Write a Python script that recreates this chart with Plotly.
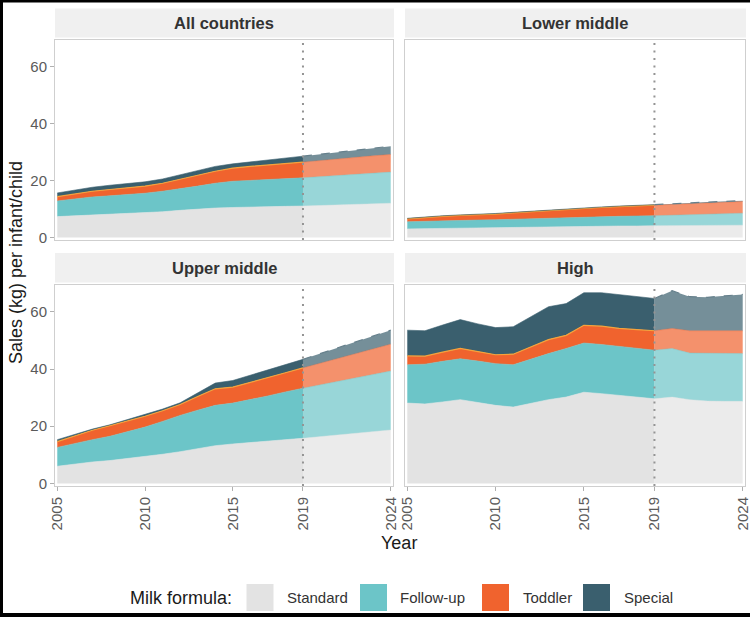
import plotly.graph_objects as go

# ---------------- data (kg per infant/child, per formula type) ----------------
years = list(range(2005, 2025))
projection_start = 2019
panels = ["All countries", "Lower middle", "Upper middle", "High"]
formula_types = ["Standard", "Follow-up", "Toddler", "Special"]
x_tick_vals = [2005, 2010, 2015, 2019, 2024]
y_tick_vals = [0, 20, 40, 60]

all_standard = [7.3, 7.6, 7.9, 8.1, 8.3, 8.6, 9.0, 9.5, 10.0, 10.3, 10.5, 10.7, 10.8, 10.9, 11.0, 11.2, 11.4, 11.6, 11.8, 12.0]
all_followup = [5.5, 5.9, 6.3, 6.5, 6.7, 6.9, 7.2, 7.5, 8.0, 8.7, 9.2, 9.3, 9.5, 9.7, 9.9, 10.1, 10.3, 10.5, 10.7, 10.9]
all_toddler = [1.5, 1.8, 2.0, 2.2, 2.3, 2.5, 2.8, 3.3, 3.8, 4.2, 4.6, 4.9, 5.1, 5.3, 5.5, 5.7, 5.8, 5.9, 6.1, 6.2]
all_special = [1.3, 1.3, 1.4, 1.5, 1.5, 1.5, 1.5, 1.7, 1.7, 1.7, 1.5, 1.6, 1.8, 2.0, 2.1, 2.2, 2.5, 2.7, 2.8, 2.9]

lower_standard = [3.0, 3.1, 3.2, 3.3, 3.3, 3.4, 3.5, 3.6, 3.7, 3.8, 3.9, 3.9, 4.0, 4.0, 4.1, 4.1, 4.2, 4.2, 4.3, 4.3]
lower_followup = [2.5, 2.6, 2.7, 2.7, 2.8, 2.8, 2.9, 3.0, 3.1, 3.2, 3.3, 3.4, 3.4, 3.5, 3.5, 3.7, 3.8, 3.9, 4.0, 4.2]
lower_toddler = [1.0, 1.3, 1.5, 1.7, 1.8, 2.0, 2.2, 2.4, 2.7, 2.9, 3.1, 3.2, 3.4, 3.6, 3.7, 3.8, 3.8, 4.0, 4.0, 4.1]
lower_special = [0.2, 0.2, 0.2, 0.2, 0.2, 0.2, 0.2, 0.2, 0.2, 0.2, 0.2, 0.2, 0.2, 0.2, 0.2, 0.3, 0.3, 0.3, 0.3, 0.3]

upper_standard = [6.0, 6.8, 7.5, 8.0, 8.7, 9.4, 10.2, 11.1, 12.2, 13.2, 13.8, 14.3, 14.8, 15.3, 15.8, 16.4, 17.0, 17.6, 18.1, 18.7]
upper_followup = [6.6, 7.2, 7.8, 8.5, 9.3, 10.3, 11.5, 12.7, 13.4, 14.1, 14.3, 15.0, 15.8, 16.7, 17.5, 18.1, 18.7, 19.3, 20.0, 20.6]
upper_toddler = [2.0, 2.6, 3.3, 3.7, 3.8, 3.8, 3.7, 3.8, 4.8, 5.8, 5.6, 6.0, 6.4, 6.7, 7.1, 7.6, 8.0, 8.5, 8.9, 9.4]
upper_special = [0.7, 0.6, 0.4, 0.3, 0.5, 0.8, 0.6, 0.6, 1.2, 2.0, 2.3, 2.5, 2.6, 2.8, 3.0, 3.3, 3.7, 4.1, 4.6, 4.9]

high_standard = [28.1, 27.8, 28.5, 29.3, 28.3, 27.3, 26.7, 28.0, 29.3, 30.2, 31.9, 31.4, 30.8, 30.2, 29.6, 30.2, 29.3, 28.8, 28.7, 28.7]
high_followup = [13.4, 13.9, 14.2, 14.3, 14.5, 14.6, 14.8, 15.5, 16.1, 17.0, 17.2, 17.2, 17.2, 17.1, 17.0, 17.0, 16.3, 16.7, 16.7, 16.7]
high_toddler = [3.1, 2.8, 3.2, 3.6, 3.3, 3.1, 3.7, 4.3, 4.9, 4.6, 6.2, 6.4, 6.2, 6.5, 6.8, 7.0, 7.8, 7.9, 8.0, 8.0]
high_special = [9.0, 8.9, 9.5, 10.1, 9.7, 9.5, 9.6, 10.5, 11.5, 11.1, 11.4, 11.7, 11.9, 11.6, 11.3, 13.2, 11.9, 11.7, 12.2, 12.7]

panel_values = {
    "All countries": [all_standard, all_followup, all_toddler, all_special],
    "Lower middle": [lower_standard, lower_followup, lower_toddler, lower_special],
    "Upper middle": [upper_standard, upper_followup, upper_toddler, upper_special],
    "High": [high_standard, high_followup, high_toddler, high_special],
}

# ---------------- styles ----------------
W, H = 750, 617
colors = ["#e3e3e3", "#6cc5c8", "#f0632e", "#3a5f6e"]
colors_proj = ["rgba(227,227,227,0.7)", "rgba(108,197,200,0.7)", "rgba(240,99,46,0.7)", "rgba(58,95,110,0.7)"]
FONT = "Liberation Sans, Arial, sans-serif"

def px_x(p):
    return p / W

def px_y(p):
    return 1 - p / H

col_px = [(55, 393), (405, 745)]
row_px = [(39.5, 240), (285, 486)]
strip_px = [(8.5, 37.5), (253, 282.5)]

fig = go.Figure()
split = years.index(projection_start)

def sfx(ax):
    return "" if ax == 1 else str(ax)

for i, name in enumerate(panels):
    ax = i + 1
    vals = panel_values[name]
    for seg, (a, b) in enumerate([(0, split + 1), (split, len(years))]):
        for k, ftype in enumerate(formula_types):
            fill = colors[k] if seg == 0 else colors_proj[k]
            line = dict(width=0.6, color=fill)
            if k == 2 and seg == 0:
                line = dict(width=1.2, color="#f6a23a")
            if k == 3 and seg == 1:
                line = dict(width=1.2, color="#66808c", dash="dash")
            fig.add_trace(go.Scatter(
                x=years[a:b], y=vals[k][a:b], mode="lines",
                stackgroup=f"p{ax}s{seg}", fillcolor=fill, line=line,
                name=ftype, showlegend=False, hoverinfo="skip",
                xaxis=f"x{sfx(ax)}", yaxis=f"y{sfx(ax)}"))

layout = dict(
    width=W, height=H, margin=dict(l=0, r=0, t=0, b=0),
    paper_bgcolor="white", plot_bgcolor="white",
    font=dict(family=FONT), showlegend=False,
)

shapes = []
annotations = []
for i, name in enumerate(panels):
    ax = i + 1
    r, c = divmod(i, 2)
    xs = sfx(ax)
    bottom = r == 1
    left = c == 0
    layout[f"xaxis{xs}"] = dict(
        domain=[px_x(col_px[c][0]), px_x(col_px[c][1])],
        range=[2004.87, 2024.13], anchor=f"y{xs}",
        tickvals=x_tick_vals, ticktext=[str(v) for v in x_tick_vals],
        tickangle=-90, showticklabels=bottom, ticks="outside" if bottom else "",
        ticklen=4, tickcolor="#b0b0b0", tickfont=dict(size=15, color="#5a5a5a"),
        ticklabeloverflow="allow",
        showline=True, mirror=True, linecolor="#cfcfcf", linewidth=1,
        showgrid=False, zeroline=False, automargin=False,
    )
    layout[f"yaxis{xs}"] = dict(
        domain=[px_y(row_px[r][1]), px_y(row_px[r][0])],
        range=[-0.9, 69.4], anchor=f"x{xs}",
        tickvals=y_tick_vals, showticklabels=left, ticks="outside" if left else "",
        ticklen=4, tickcolor="#b0b0b0", tickfont=dict(size=15, color="#5a5a5a"),
        ticklabeloverflow="allow",
        showline=True, mirror=True, linecolor="#cfcfcf", linewidth=1,
        showgrid=False, zeroline=False, automargin=False,
    )
    # strip
    shapes.append(dict(type="rect", xref="paper", yref="paper",
                       x0=px_x(col_px[c][0]), x1=px_x(col_px[c][1] + 1),
                       y0=px_y(strip_px[r][1]), y1=px_y(strip_px[r][0]),
                       fillcolor="#f0f0f0", line=dict(width=0), layer="below"))
    annotations.append(dict(xref="paper", yref="paper",
                            x=px_x((col_px[c][0] + col_px[c][1]) / 2),
                            y=px_y((strip_px[r][0] + strip_px[r][1]) / 2),
                            text=f"<b>{name}</b>", showarrow=False,
                            font=dict(size=16.5, color="#333333", family=FONT),
                            xanchor="center", yanchor="middle"))
    # projection divider
    shapes.append(dict(type="line", xref=f"x{xs}", yref=f"y{xs} domain",
                       x0=projection_start, x1=projection_start, y0=0, y1=1,
                       line=dict(color="#949494", width=2, dash="2px,5.5px")))

# axis titles
annotations.append(dict(xref="paper", yref="paper", x=px_x(16), y=px_y(263),
                        text="Sales (kg) per infant/child", textangle=-90, showarrow=False,
                        font=dict(size=18, color="#1a1a1a", family=FONT),
                        xanchor="center", yanchor="middle"))
annotations.append(dict(xref="paper", yref="paper", x=px_x(399), y=px_y(543),
                        text="Year", showarrow=False,
                        font=dict(size=18, color="#1a1a1a", family=FONT),
                        xanchor="center", yanchor="middle"))

# legend
legend_y = 597.5
annotations.append(dict(xref="paper", yref="paper", x=px_x(234), y=px_y(legend_y),
                        text="Milk formula:", showarrow=False,
                        font=dict(size=18, color="#1a1a1a", family=FONT),
                        xanchor="right", yanchor="middle"))
key_x = [246.5, 360, 482, 583]
label_x = [285, 398, 521, 622]
for k, ftype in enumerate(formula_types):
    shapes.append(dict(type="rect", xref="paper", yref="paper",
                       x0=px_x(key_x[k]), x1=px_x(key_x[k] + 27),
                       y0=px_y(611), y1=px_y(584),
                       fillcolor=colors[k], line=dict(width=0)))
    annotations.append(dict(xref="paper", yref="paper", x=px_x(label_x[k]), y=px_y(legend_y),
                            text=ftype, showarrow=False,
                            font=dict(size=15, color="#333333", family=FONT),
                            xanchor="left", yanchor="middle"))

# black frame of the picture (top, left, bottom edges)
shapes.append(dict(type="line", xref="paper", yref="paper", x0=0, x1=1, y0=1, y1=1,
                   line=dict(color="black", width=5)))
shapes.append(dict(type="line", xref="paper", yref="paper", x0=0, x1=0, y0=0, y1=1,
                   line=dict(color="black", width=6)))
shapes.append(dict(type="line", xref="paper", yref="paper", x0=0, x1=1, y0=0, y1=0,
                   line=dict(color="black", width=8)))

layout["shapes"] = shapes
layout["annotations"] = annotations
fig.update_layout(**layout)
fig.write_html(
    "out.html",
    config={"displayModeBar": False},
    post_script="document.body.style.margin='0';document.body.style.overflow='hidden';",
)
